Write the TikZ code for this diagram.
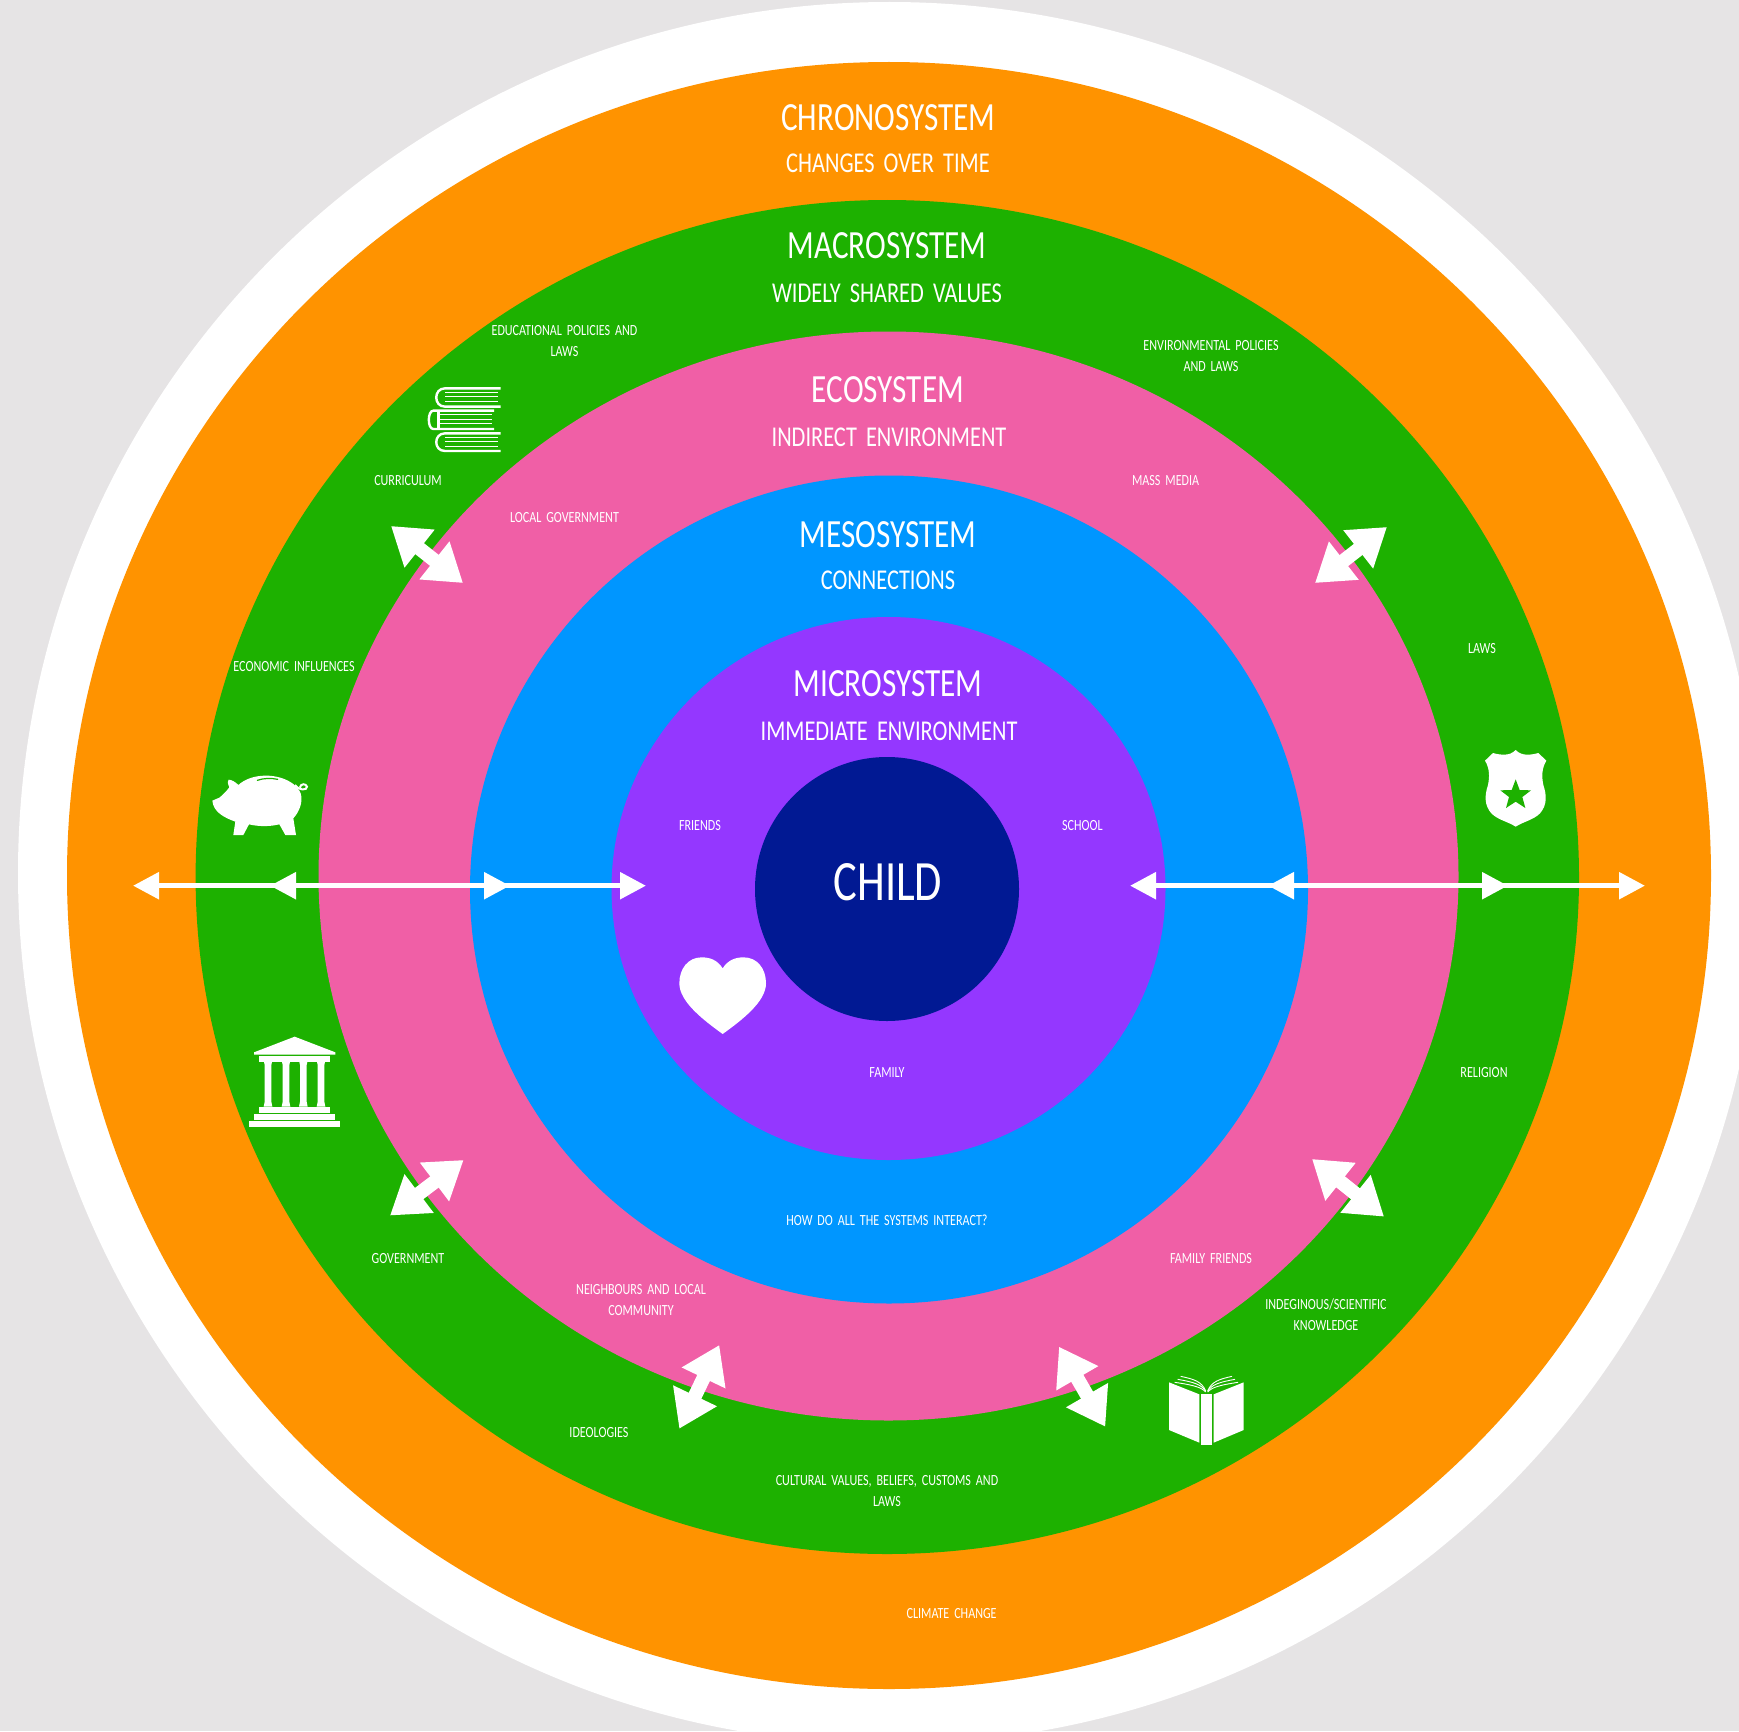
\documentclass[tikz,border=0pt]{standalone}
\usepackage{fontspec}
\usetikzlibrary{arrows.meta}
\newfontfamily\handfont[FakeStretch=0.78,WordSpace=1.8]{Carlito}
\newcommand{\fbig}{\handfont\fontsize{40}{40}\selectfont}
\newcommand{\fsub}{\handfont\fontsize{28.7}{29}\selectfont}
\newcommand{\fchild}{\handfont\fontsize{57}{57}\selectfont}
\newcommand{\fsmall}{\handfont\fontsize{15.5}{21}\selectfont}
\definecolor{bggray}{HTML}{E6E4E5}
\definecolor{ringorange}{HTML}{FF9300}
\definecolor{ringgreen}{HTML}{1DB100}
\definecolor{ringpink}{HTML}{F05FA6}
\definecolor{ringblue}{HTML}{0096FF}
\definecolor{ringpurple}{HTML}{9437FF}
\definecolor{ringnavy}{HTML}{011993}
\tikzset{
  titlelabel/.style={text=white,font=\fbig,inner sep=0pt},
  sublabel/.style={text=white,font=\fsub,inner sep=0pt},
  childlabel/.style={text=white,font=\fchild,inner sep=0pt},
  smalllabel/.style={text=white,font=\fsmall,inner sep=0pt,align=center},
  longarrow/.style={draw=white,line width=5.5pt,{Triangle[length=26pt,width=26pt]}-{Triangle[length=26pt,width=26pt]}},
  fatarrow/.style={draw=white,line width=14pt,{Triangle[length=36.5pt,width=46pt]}-{Triangle[length=36.5pt,width=46pt]}},
  zoomthree/.style={x=0.33333pt,y=-0.33333pt}
}
\begin{document}
\begin{tikzpicture}[x=1pt,y=-1pt]
\useasboundingbox (0,0) rectangle (1739,1731);
\clip (0,0) rectangle (1739,1731);
% rings
\fill[bggray] (0,0) rectangle (1739,1731);
\fill[white] (889.5,873) ellipse [x radius=871.5pt,y radius=871pt];
\fill[ringorange] (889,875.5) ellipse [x radius=822pt,y radius=813.5pt];
\fill[ringgreen] (887.3,877) ellipse [x radius=691.7pt,y radius=677pt];
\fill[ringpink] (888.5,876) ellipse [x radius=570pt,y radius=544.5pt];
\fill[ringblue] (889,889.5) ellipse [x radius=419pt,y radius=414pt];
\fill[ringpurple] (888.5,888.5) ellipse [x radius=277pt,y radius=271.5pt];
\fill[ringnavy] (887,889) circle [radius=132pt];
% titles
\node[titlelabel] (chrono) at (888.5,117.5) {CHRONOSYSTEM};
\node[sublabel] (chronosub) at (888,163) {CHANGES OVER TIME};
\node[titlelabel] (macro) at (887,246) {MACROSYSTEM};
\node[sublabel] (macrosub) at (887,293) {WIDELY SHARED VALUES};
\node[titlelabel] (eco) at (888,390) {ECOSYSTEM};
\node[sublabel] (ecosub) at (889,437) {INDIRECT ENVIRONMENT};
\node[titlelabel] (meso) at (888,535) {MESOSYSTEM};
\node[sublabel] (mesosub) at (888,580) {CONNECTIONS};
\node[titlelabel] (micro) at (888,684) {MICROSYSTEM};
\node[sublabel] (microsub) at (889,731) {IMMEDIATE ENVIRONMENT};
\node[childlabel] (child) at (888,882.5) {CHILD};
% small labels
\node[smalllabel] (edupol) at (564.5,341) {EDUCATIONAL POLICIES AND\\LAWS};
\node[smalllabel] (envpol) at (1211,356.5) {ENVIRONMENTAL POLICIES\\AND LAWS};
\node[smalllabel] (massmedia) at (1165.6,481) {MASS MEDIA};
\node[smalllabel] (curriculum) at (408,481) {CURRICULUM};
\node[smalllabel] (localgov) at (564.5,518) {LOCAL GOVERNMENT};
\node[smalllabel] (laws) at (1482,649) {LAWS};
\node[smalllabel] (econ) at (294,666.5) {ECONOMIC INFLUENCES};
\node[smalllabel] (friends) at (700,826) {FRIENDS};
\node[smalllabel] (school) at (1082.4,826) {SCHOOL};
\node[smalllabel] (family) at (887,1072.5) {FAMILY};
\node[smalllabel] (religion) at (1484,1072.5) {RELIGION};
\node[smalllabel] (interact) at (887,1220) {HOW DO ALL THE SYSTEMS INTERACT?};
\node[smalllabel] (government) at (408,1259) {GOVERNMENT};
\node[smalllabel] (famfriends) at (1211,1259) {FAMILY FRIENDS};
\node[smalllabel] (neighbours) at (641,1300.5) {NEIGHBOURS AND LOCAL\\COMMUNITY};
\node[smalllabel] (indig) at (1326,1314.5) {INDEGINOUS/SCIENTIFIC\\KNOWLEDGE};
\node[smalllabel] (ideologies) at (599,1433) {IDEOLOGIES};
\node[smalllabel] (cultural) at (887,1491) {CULTURAL VALUES, BELIEFS, CUSTOMS AND\\LAWS};
\node[smalllabel] (climate) at (951.6,1614) {CLIMATE CHANGE};
% horizontal arrows
\coordinate (la) at (133,885.7); \coordinate (lb) at (510,885.7);
\coordinate (lc) at (270,885.7); \coordinate (ld) at (646,885.7);
\coordinate (ra) at (1130,885.7); \coordinate (rb) at (1508,885.7);
\coordinate (rc) at (1268,885.7); \coordinate (rd) at (1645,885.7);
\draw[longarrow] (la) -- (lb);
\draw[longarrow] (lc) -- (ld);
\draw[longarrow] (ra) -- (rb);
\draw[longarrow] (rc) -- (rd);
% diagonal arrows
\coordinate (ula) at (391,526); \coordinate (ulb) at (463,583);
\coordinate (ura) at (1387,527); \coordinate (urb) at (1315,583);
\coordinate (lla) at (390,1215.5); \coordinate (llb) at (463.6,1160);
\coordinate (lra) at (1312,1159); \coordinate (lrb) at (1384,1216.6);
\coordinate (bla) at (719.3,1345); \coordinate (blb) at (679.3,1428.7);
\coordinate (bra) at (1059,1346.7); \coordinate (brb) at (1105.3,1426.7);
\draw[fatarrow] (ula) -- (ulb);
\draw[fatarrow] (ura) -- (urb);
\draw[fatarrow] (lla) -- (llb);
\draw[fatarrow] (lra) -- (lrb);
\draw[fatarrow] (bla) -- (blb);
\draw[fatarrow] (bra) -- (brb);
% piggy bank
\begin{scope}[shift={(180,740)},zoomthree]
\fill[white] (97,182) -- (118,173) .. controls (128,165) and (138,155) .. (148,142)
  .. controls (143,130) and (141,122) .. (146,119) .. controls (155,119) and (168,127) .. (175,135)
  .. controls (215,98) and (295,98) .. (340,132) .. controls (350,140) and (358,150) .. (362,160)
  .. controls (370,185) and (358,215) .. (340,235) -- (348,285) -- (316,285) -- (298,253)
  .. controls (270,260) and (235,260) .. (207,253) -- (190,285) -- (160,285) -- (166,245)
  .. controls (130,232) and (100,215) .. (97,182) -- cycle;
\draw[white,line width=2pt] (345,135) .. controls (355,152) and (382,152) .. (381,140) .. controls (378,130) and (362,130) .. (360,142);
\draw[ringgreen,line width=1.2pt,line cap=round] (232,121) .. controls (250,114) and (275,114) .. (293,118);
% temple
\fill[white] (222,937) -- (344,890) -- (466,937) -- (466,944) -- (222,944) -- cycle;
\fill[white] (237,949) rectangle (450,966);
\foreach \cx in {264,318,370,423}{
  \fill[white] (\cx-12,966) -- (\cx+12,966) -- (\cx+10,975) -- (\cx+10,1085) -- (\cx+13,1100) -- (\cx-13,1100) -- (\cx-10,1085) -- (\cx-10,975) -- cycle;
}
\fill[white] (237,1102) rectangle (450,1118);
\fill[white] (222,1122) rectangle (466,1140);
\fill[white] (207,1144) rectangle (480,1161);
\end{scope}
% books stack
\begin{scope}[shift={(370,370)},zoomthree]
\draw[white,line width=2.4pt] (392,55) -- (225,55) .. controls (190,55) and (190,110) .. (225,110) -- (392,110);
\draw[white,line width=2.4pt] (372,122) -- (190,122) .. controls (172,122) and (172,177) .. (190,177) -- (372,177);
\draw[white,line width=2.4pt] (205,122) -- (205,177);
\draw[white,line width=2.4pt] (392,190) -- (225,190) .. controls (190,190) and (190,243) .. (225,243) -- (392,243);
\foreach \ly in {67,80,93,202,215,228}{\draw[white,line width=0.9pt] (225,\ly) -- (385,\ly);}
\foreach \ly in {134,147,160}{\draw[white,line width=0.9pt] (208,\ly) -- (365,\ly);}
\end{scope}
% open book
\begin{scope}[shift={(1140,1330)},zoomthree]
\fill[white] (87,157) -- (178,193) -- (178,338) -- (87,300) -- cycle;
\fill[white] (184,193) rectangle (215,345);
\fill[white] (221,193) -- (311,157) -- (311,300) -- (221,338) -- cycle;
\foreach \dy in {0,9,18}{
  \draw[white,line width=0.9pt] (197,{186-\dy*0.2}) .. controls (185,{172-\dy}) and (160,{165-\dy}) .. ({104+\dy},{157-\dy});
  \draw[white,line width=0.9pt] (203,{186-\dy*0.2}) .. controls (215,{172-\dy}) and (240,{165-\dy}) .. ({294-\dy},{157-\dy});
}
\end{scope}
% shield
\begin{scope}[shift={(1450,730)},zoomthree]
\fill[white] (197,60) .. controls (207,70) and (218,74) .. (232,74) .. controls (243,74) and (255,72) .. (265,69)
  -- (289,92) .. controls (275,115) and (275,140) .. (280,165) .. controls (290,195) and (292,225) .. (270,250)
  .. controls (250,270) and (220,275) .. (197,290) .. controls (174,275) and (144,270) .. (124,250)
  .. controls (102,225) and (104,195) .. (114,165) .. controls (119,140) and (119,115) .. (105,92)
  -- (129,69) .. controls (139,72) and (151,74) .. (162,74) .. controls (176,74) and (187,70) .. (197,60) -- cycle;
\fill[ringgreen] (197,148) -- (209,180) -- (243,181) -- (217,201) -- (226,234) -- (197,215) -- (168,234) -- (177,201) -- (151,181) -- (185,180) -- cycle;
\end{scope}
% heart
\begin{scope}[shift={(660,640)},zoomthree]
\fill[white] (188,985) .. controls (172,960) and (150,952) .. (125,952) .. controls (85,952) and (58,985) .. (58,1030)
  .. controls (58,1085) and (130,1140) .. (188,1182) .. controls (246,1140) and (318,1085) .. (318,1030)
  .. controls (318,985) and (291,952) .. (251,952) .. controls (226,952) and (204,960) .. (188,985) -- cycle;
\end{scope}
\end{tikzpicture}
\end{document}
